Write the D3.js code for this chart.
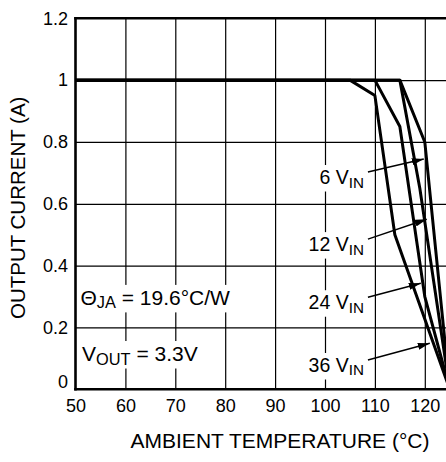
<!DOCTYPE html>
<html><head><meta charset="utf-8">
<script src="https://cdn.jsdelivr.net/npm/d3@7"></script>
<style>body{margin:0;background:#fff} svg{display:block;font-family:"Liberation Sans",Arial,Helvetica,sans-serif}</style>
</head><body><svg id="c" width="446" height="462"></svg>
<script>
// ---- data ----
const xTicks = [50, 60, 70, 80, 90, 100, 110, 120];
const yTicks = [0, 0.2, 0.4, 0.6, 0.8, 1, 1.2];
const yTickLabels = ["0", "0.2", "0.4", "0.6", "0.8", "1", "1.2"];
const seriesNames = ["6", "12", "24", "36"];
const temp6 = [50, 115, 120, 125],        curr6 = [1, 1, 0.8, 0];
const temp12 = [50, 115, 119, 125],       curr12 = [1, 1, 0.65, 0];
const temp24 = [50, 110, 115, 120, 125],  curr24 = [1, 1, 0.85, 0.3, 0];
const temp36 = [50, 105, 110, 114, 125],  curr36 = [1, 1, 0.95, 0.5, 0];
const xTitle = "AMBIENT TEMPERATURE (°C)";
const yTitle = "OUTPUT CURRENT (A)";

const series = [
  {name: "6", t: temp6, c: curr6},
  {name: "12", t: temp12, c: curr12},
  {name: "24", t: temp24, c: curr24},
  {name: "36", t: temp36, c: curr36}
];

// ---- layout ----
const W = 446, L = 75.5, T = 18.3, B = 389.3;
const svg = d3.select("#c");
const x = d3.scaleLinear().domain([50, 130]).range([L, L + 80 * 4.99]);
const y = d3.scaleLinear().domain([0, 1.2]).range([B, T]);

// gridlines
svg.append("g").attr("transform", `translate(0,${B})`)
  .call(d3.axisBottom(x).tickValues(xTicks.slice(1)).tickSize(-(B - T)).tickFormat(""))
  .call(g => g.select(".domain").remove())
  .selectAll("line").attr("stroke", "#000").attr("stroke-width", 1.2);
svg.append("g").attr("transform", `translate(${L},0)`)
  .call(d3.axisLeft(y).tickValues(yTicks.slice(1, -1)).tickSize(-(W - L)).tickFormat(""))
  .call(g => g.select(".domain").remove())
  .selectAll("line").attr("stroke", "#000").attr("stroke-width", 1.2);

// annotation text helpers
const bgLayer = svg.append("g");
const textLayer = svg.append("g");
function label(tx, ty, main, sub, rest, size, anchor) {
  const t = textLayer.append("text").attr("x", tx).attr("y", ty)
    .attr("font-size", size).attr("text-anchor", anchor || "start").attr("fill", "#000");
  t.append("tspan").text(main);
  t.append("tspan").attr("font-size", size * 0.78).attr("dy", 3.5).text(sub);
  if (rest) t.append("tspan").attr("dy", -3.5).text(rest);
  const bb = t.node().getBBox();
  bgLayer.append("rect").attr("x", bb.x - 2).attr("y", bb.y - 1)
    .attr("width", bb.width + 4).attr("height", bb.height + 2).attr("fill", "#fff");
  return t;
}

label(x(51.0), y(0.273), "\u0398", "JA", " = 19.6°C/W", 21);
label(x(51.3), y(0.0915), "V", "OUT", " = 3.3V", 21);

const ann = [
  {name: "6",  lv: 0.664, tt: 119.8, tv: 0.745},
  {name: "12", lv: 0.447, tt: 120.4, tv: 0.55},
  {name: "24", lv: 0.259, tt: 119.2, tv: 0.343},
  {name: "36", lv: 0.056, tt: 121.0, tv: 0.149}
];
const labelT = 107.8;
ann.forEach(a => label(x(labelT), y(a.lv), a.name + " V", "IN", null, 19.5, "end"));

// frame
const frame = svg.append("g").attr("stroke", "#000").attr("stroke-width", 2.6).attr("fill", "none");
frame.append("line").attr("x1", L).attr("x2", L).attr("y1", T - 1.3).attr("y2", B + 1.3);
frame.append("line").attr("x1", L - 1.3).attr("x2", W).attr("y1", B).attr("y2", B);
frame.append("line").attr("x1", L - 1.3).attr("x2", W).attr("y1", T).attr("y2", T);

// curves
svg.append("clipPath").attr("id", "clip").append("rect")
  .attr("x", L).attr("y", T - 3).attr("width", W - L).attr("height", B - T + 4);
const line = d3.line().x(d => x(d[0])).y(d => y(d[1]));
svg.append("g").attr("clip-path", "url(#clip)").selectAll("path").data(series).join("path")
  .attr("d", s => line(s.t.map((t, i) => [t, s.c[i]])))
  .attr("fill", "none").attr("stroke", "#000").attr("stroke-width", 3).attr("stroke-linejoin", "round");

// arrows
svg.append("defs").append("marker").attr("id", "arr").attr("markerUnits", "userSpaceOnUse")
  .attr("viewBox", "0 0 12 7").attr("markerWidth", 12).attr("markerHeight", 7)
  .attr("refX", 12).attr("refY", 3.5).attr("orient", "auto")
  .append("path").attr("d", "M0,0 L12,3.5 L0,7 Z").attr("fill", "#000");
svg.append("g").selectAll("line").data(ann).join("line")
  .attr("x1", x(labelT) + 4).attr("y1", a => y(a.lv) - 12)
  .attr("x2", a => x(a.tt)).attr("y2", a => y(a.tv))
  .attr("stroke", "#000").attr("stroke-width", 1.4).attr("marker-end", "url(#arr)");

// tick labels
const xa = svg.append("g").attr("transform", `translate(0,${B})`)
  .call(d3.axisBottom(x).tickValues(xTicks).tickSize(0).tickPadding(10).tickFormat(d3.format("d")));
xa.select(".domain").remove();
xa.selectAll("text").attr("font-size", 18).attr("font-family", null).attr("fill", "#000");

const ya = svg.append("g").attr("transform", `translate(${L},0)`)
  .call(d3.axisLeft(y).tickValues(yTicks).tickSize(0).tickPadding(7.5).tickFormat((d, i) => yTickLabels[i]));
ya.select(".domain").remove();
ya.selectAll("text").attr("font-size", 18).attr("font-family", null).attr("fill", "#000")
  .filter(d => d === 0).attr("dy", "-0.1em");

// axis titles
svg.append("text").attr("x", 280).attr("y", 448).attr("text-anchor", "middle")
  .attr("font-size", 21).text(xTitle);
svg.append("text").attr("transform", `translate(25,${(T + B) / 2 + 4}) rotate(-90)`)
  .attr("text-anchor", "middle").attr("font-size", 20.5).text(yTitle);
</script></body></html>
